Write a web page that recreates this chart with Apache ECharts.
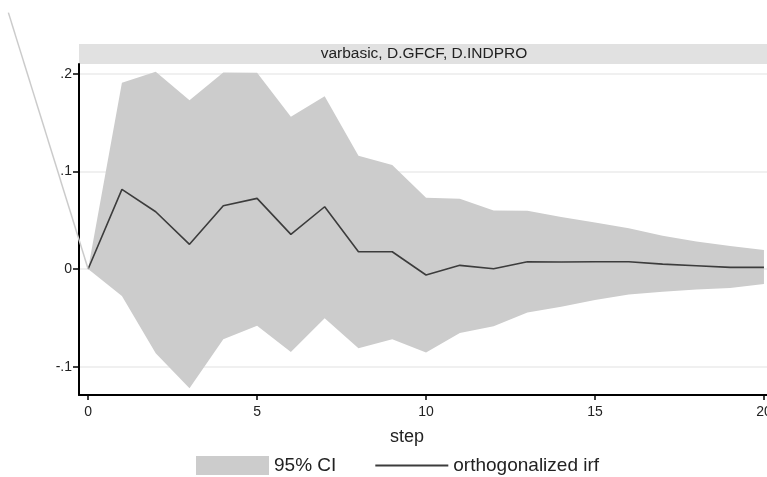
<!DOCTYPE html>
<html>
<head>
<meta charset="utf-8">
<script src="https://cdn.jsdelivr.net/npm/echarts@6/dist/echarts.min.js"></script>
<style>
    html, body { margin: 0; padding: 0; background: #fff; }
    #chartContainer { width: 767px; height: 477px; }
</style>
</head>
<body>
<div id="chartContainer"></div>
<script>
// 数据：步数、脉冲响应和 95% 置信区间
const steps = [0, 1, 2, 3, 4, 5, 6, 7, 8, 9, 10, 11, 12, 13, 14, 15, 16, 17, 18, 19, 20]
const irf   = [0, 0.0816, 0.0587, 0.0253, 0.0648, 0.0724, 0.0355, 0.0638, 0.0177, 0.0177, -0.0061,
               0.0038, 0.0003, 0.0075, 0.0072, 0.0075, 0.0075, 0.005, 0.0034, 0.0017, 0.0017]
const upper = [0, 0.1908, 0.202, 0.173, 0.2014, 0.201, 0.156, 0.177, 0.116, 0.1065, 0.073,
               0.072, 0.060, 0.0596, 0.0534, 0.0476, 0.0418, 0.0342, 0.0281, 0.0236, 0.0195]
const lower = [0, -0.0276, -0.0863, -0.122, -0.072, -0.058, -0.085, -0.0505, -0.081, -0.072, -0.0856,
               -0.0654, -0.0586, -0.0445, -0.0387, -0.0318, -0.026, -0.0233, -0.0209, -0.0195, -0.0154]

// 左上角那条浅灰色斜线（原图里就有）
const strayX = [-2.36, 0]
const strayY = [0.2626, 0]

const xTicks = [0, 5, 10, 15, 20]
const yTicks = [-0.1, 0, 0.1, 0.2]

const panelTitle = 'varbasic, D.GFCF, D.INDPRO'
const FONT = 'Liberation Sans'

/**
 * 置信区间：整块多边形，上界从左到右，下界从右到左
 */
const renderBand = (params, api) => {
    let pts = []
    steps.forEach((s, i) => pts.push(api.coord([s, upper[i]])))
    for (let i = steps.length - 1; i >= 0; i--) {
        pts.push(api.coord([steps[i], lower[i]]))
    }
    return {
        type: 'polygon',
        shape: { points: pts },
        style: { fill: '#cccccc', stroke: null }
    }
}

/**
 * 斜线：画在坐标系外面，所以用 custom
 */
const renderStray = (params, api) => {
    let p1 = api.coord([strayX[0], strayY[0]])
    let p2 = api.coord([strayX[1], strayY[1]])
    return {
        type: 'line',
        shape: { x1: p1[0], y1: p1[1], x2: p2[0], y2: p2[1] },
        style: { stroke: '#cbcbcb', lineWidth: 1.5 }
    }
}

onload = () => {
    let chart = echarts.init(document.getElementById('chartContainer'))

    let irfData = steps.map((s, i) => [s, irf[i]])

    let options = {
        animation: false,
        backgroundColor: '#fff',
        textStyle: { fontFamily: FONT },
        grid: { left: 79, top: 64, right: 0, bottom: 82, outerBoundsMode: 'none', containLabel: false },
        graphic: [
            {
                type: 'rect',
                shape: { x: 79, y: 44, width: 688, height: 20 },
                style: { fill: '#e1e1e1' },
                silent: true
            },
            {
                type: 'text',
                x: 424, y: 54,
                style: {
                    text: panelTitle, fontFamily: FONT, fontSize: 15.5,
                    fill: '#222', align: 'center', verticalAlign: 'middle'
                },
                silent: true
            }
        ],
        legend: {
            left: 196, top: 456, padding: 0,
            itemWidth: 73, itemHeight: 19, itemGap: 38,
            textStyle: { fontFamily: FONT, fontSize: 19, color: '#222' },
            data: [
                { name: '95% CI', icon: 'rect', itemStyle: { color: '#cccccc' } },
                { name: 'orthogonalized irf', itemStyle: { opacity: 0 } }
            ]
        },
        xAxis: {
            type: 'value',
            min: -0.27, max: 20.09,
            name: 'step', nameLocation: 'middle', nameGap: 33,
            nameTextStyle: { fontFamily: FONT, fontSize: 18, color: '#222', padding: [0, 32, 0, 0] },
            axisLine: { onZero: false, lineStyle: { color: '#000', width: 2 } },
            axisTick: { length: 5, lineStyle: { color: '#000', width: 1.5 }, customValues: xTicks },
            axisLabel: { customValues: xTicks, fontSize: 14, color: '#222', margin: 10 },
            splitLine: { show: false }
        },
        yAxis: {
            type: 'value',
            min: -0.129, max: 0.21,
            axisLine: { show: true, onZero: false, lineStyle: { color: '#000', width: 2 } },
            axisTick: { show: true, length: 6, lineStyle: { color: '#000', width: 1.5 }, customValues: yTicks },
            axisLabel: {
                customValues: yTicks, fontSize: 14, color: '#222', margin: 7,
                formatter: v => v === 0 ? '0' : String(v).replace('0.', '.')
            },
            splitLine: { show: true, lineStyle: { color: '#ebebeb', width: 1.5 } }
        },
        series: [
            {
                name: '95% CI',
                type: 'custom',
                renderItem: renderBand,
                data: [[0, 0]],
                itemStyle: { color: '#cccccc' },
                silent: true
            },
            {
                name: 'orthogonalized irf',
                type: 'line',
                data: irfData,
                symbol: 'none',
                color: '#3c3c3c',
                lineStyle: { color: '#3c3c3c', width: 1.6 },
                z: 3
            },
            {
                name: 'stray',
                type: 'custom',
                renderItem: renderStray,
                data: [[0, 0]],
                clip: false,
                silent: true,
                z: 4
            }
        ]
    }

    chart.setOption(options)
}
</script>
</body>
</html>
